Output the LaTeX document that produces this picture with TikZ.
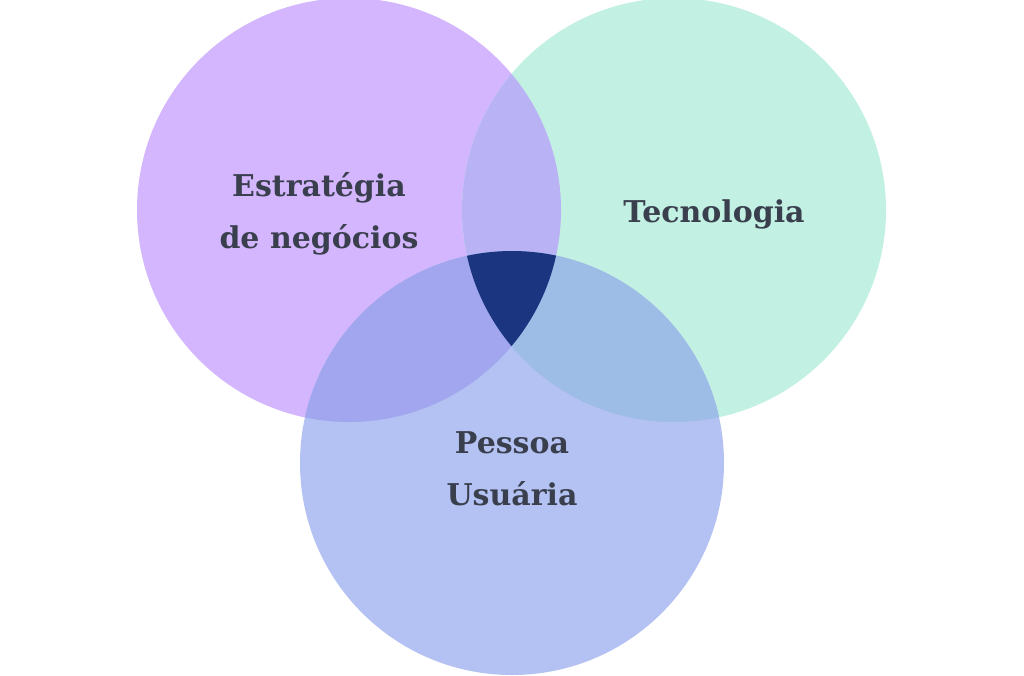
\documentclass[tikz,border=0pt]{standalone}
\usepackage{fontspec}
\usepackage{xcolor}
\usepackage{tikz}
\newfontfamily\vennfont{DejaVu Serif}
\definecolor{estrat}{HTML}{D3B6FE}
\definecolor{tecno}{HTML}{C2F0E3}
\definecolor{pessoa}{HTML}{B3C2F2}
\definecolor{estec}{HTML}{B9B2F5}
\definecolor{espes}{HTML}{A2A6EE}
\definecolor{tecpes}{HTML}{9DBCE6}
\definecolor{centro}{HTML}{1C3580}
\definecolor{txt}{HTML}{3A3F4E}
\tikzset{
  label text/.style={text=txt, font=\vennfont\bfseries\fontsize{30}{52}\selectfont, align=center},
}

\begin{document}
\begin{tikzpicture}[x=1pt, y=-1pt]
    \useasboundingbox (0,0) rectangle (1024,675);
    \def\estpath{(349,210) circle (212pt)}
    \def\tecpath{(674,210) circle (212pt)}
    \def\pespath{(512,463) circle (212pt)}
    \fill[estrat] \estpath;
    \fill[tecno] \tecpath;
    \fill[pessoa] \pespath;
    \begin{scope}
        \clip \estpath;
        \fill[estec] \tecpath;
    \end{scope}
    \begin{scope}
        \clip \estpath;
        \fill[espes] \pespath;
    \end{scope}
    \begin{scope}
        \clip \tecpath;
        \fill[tecpes] \pespath;
    \end{scope}
    \begin{scope}
        \clip \estpath;
        \clip \tecpath;
        \fill[centro] \pespath;
    \end{scope}
    \node[label text] (est) at (319,214) {Estratégia\\de negócios};
    \node[label text] (tec) at (714,214) {Tecnologia};
    \node[label text] (pes) at (512,469) {Pessoa\\Usuária};
\end{tikzpicture}
\end{document}
